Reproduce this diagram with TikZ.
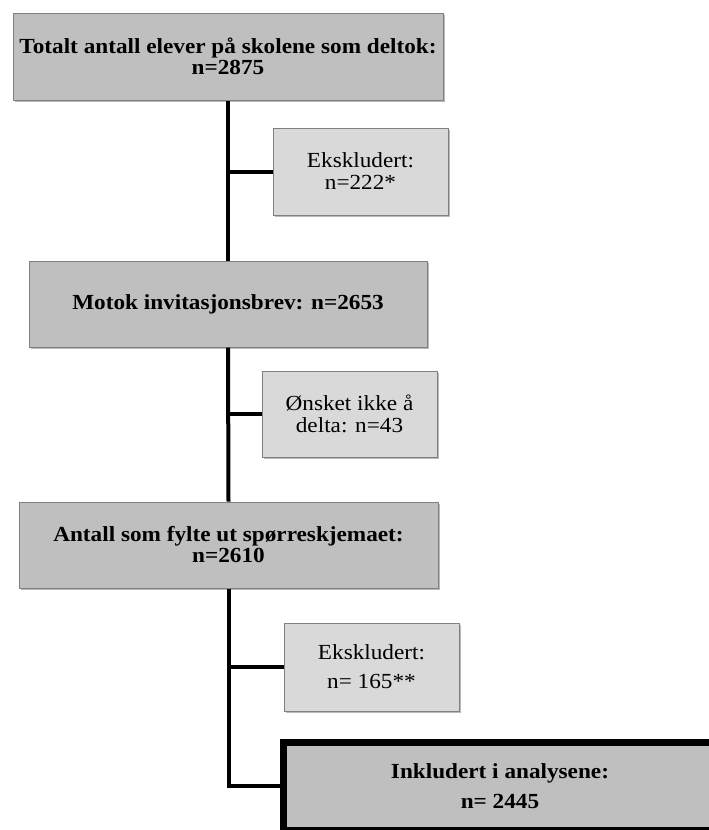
\documentclass[tikz,border=0pt]{standalone}
\usepackage{fontspec}
\setmainfont{Liberation Serif}[FakeStretch=1.08]
\usetikzlibrary{shadows}
\begin{document}
\begin{tikzpicture}[x=1pt,y=-1pt,
  shade box/.style={draw=black!50, line width=1pt, drop shadow={shadow xshift=2pt, shadow yshift=-2pt, opacity=0.45, fill=black!60}},
  mainbox/.style={shade box, fill=black!25, inner sep=0pt, align=center, font=\fontsize{21.5}{21}\selectfont\bfseries},
  sidebox/.style={shade box, fill=black!15, inner sep=0pt, align=center, font=\fontsize{21.5}{22}\selectfont},
  link/.style={line width=4pt, draw=black}]
\useasboundingbox (0,0) rectangle (709,830);
\clip (0,0) rectangle (709,830);
\node[mainbox, minimum width=430pt, minimum height=87pt] (b1) at (228,56.5) {Totalt antall elever på skolene som deltok:\\ n=2875};
\node[sidebox, minimum width=175pt, minimum height=87pt] (b2) at (360.5,171.5) {Ekskludert:\\ n=222*};
\node[mainbox, minimum width=398pt, minimum height=86pt] (b3) at (228,304) {Motok invitasjonsbrev: n=2653};
\node[sidebox, minimum width=175pt, minimum height=86pt] (b4) at (349.5,414) {Ønsket ikke å\\ delta: n=43};
\node[mainbox, minimum width=419pt, minimum height=86pt] (b5) at (228.5,545) {Antall som fylte ut spørreskjemaet:\\ n=2610};
\node[sidebox, minimum width=175pt, minimum height=88pt, font=\fontsize{21.5}{29}\selectfont] (b6) at (371.5,667) {Ekskludert:\\ n= 165**};
\node[draw=black, line width=7pt, fill=black!25, inner sep=0pt, align=center, minimum width=433pt, minimum height=88pt, font=\fontsize{21.5}{30}\selectfont\bfseries] (b7) at (500,786) {Inkludert i analysene:\\ n= 2445};
\draw[link] (b1.south) -- (b3.north);
\draw[link] (b2.west) -- (b2.west -| b1.south);
\draw[link] (b3.south) -- (b5.north);
\draw[link] (b4.west) -- (b4.west -| b3.south);
\draw[link] (b5.south) |- (b7.west);
\draw[link] (b6.west) -- (b6.west -| b5.south);
\end{tikzpicture}
\end{document}
